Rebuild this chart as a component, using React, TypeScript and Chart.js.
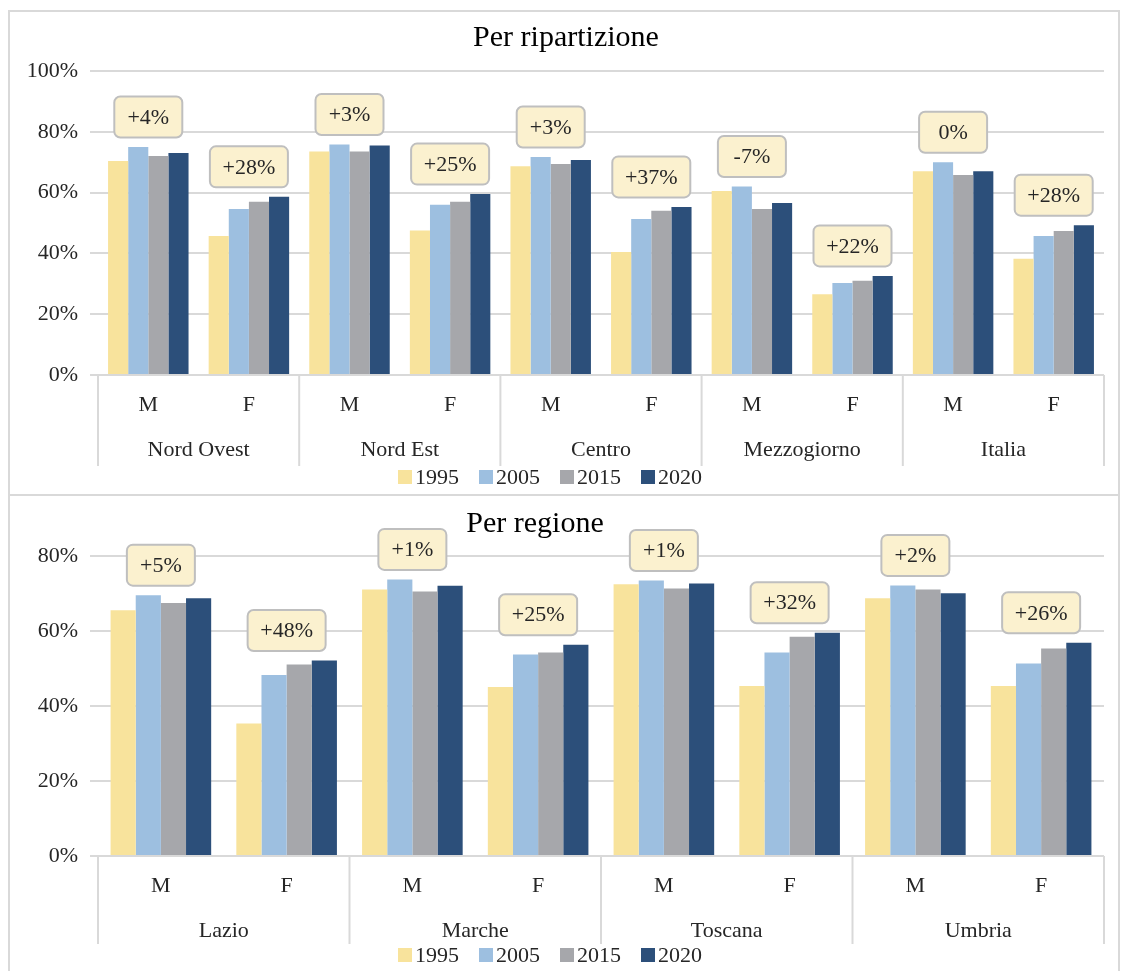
import { useEffect, useRef } from "react"
import { Chart, registerables, type Plugin } from "chart.js"

Chart.register(...registerables)

const YEARS = ["1995", "2005", "2015", "2020"]
const COLORS = ["#F8E39C", "#9DBFE0", "#A6A7AB", "#2C4F7A"]
const SEX = ["M", "F"]

// Per ripartizione
const AREAS = ["Nord Ovest", "Nord Est", "Centro", "Mezzogiorno", "Italia"]
const AREA_1995 = [70.4, 45.7, 73.5, 47.5, 68.7, 40.5, 60.5, 26.6, 67.0, 38.2]
const AREA_2005 = [75.0, 54.6, 75.8, 56.0, 71.7, 51.3, 62.0, 30.3, 70.0, 45.7]
const AREA_2015 = [72.0, 57.0, 73.5, 57.0, 69.4, 54.0, 54.6, 31.0, 65.8, 47.4]
const AREA_2020 = [73.0, 58.6, 75.5, 59.5, 70.7, 55.3, 56.6, 32.6, 67.0, 49.3]
const AREA_DELTA = ["+4%", "+28%", "+3%", "+25%", "+3%", "+37%", "-7%", "+22%", "0%", "+28%"]

// Per regione
const REGIONS = ["Lazio", "Marche", "Toscana", "Umbria"]
const REG_1995 = [65.5, 35.3, 71.0, 45.0, 72.4, 45.3, 68.7, 45.3]
const REG_2005 = [69.5, 48.2, 73.7, 53.7, 73.4, 54.2, 72.1, 51.3]
const REG_2015 = [67.4, 51.0, 70.5, 54.2, 71.3, 58.4, 71.0, 55.3]
const REG_2020 = [68.7, 52.1, 72.0, 56.3, 72.6, 59.5, 70.0, 56.8]
const REG_DELTA = ["+5%", "+48%", "+1%", "+25%", "+1%", "+32%", "+2%", "+26%"]

const FONT = "'Liberation Serif', 'DejaVu Serif', serif"
const INK = "#262626"

interface PanelProps {
  title: string
  titleX: number
  groups: string[]
  series: number[][]
  deltas: string[]
  max: number
  width: number
  height: number
  sepBottom: number
}

function Panel({ title, titleX, groups, series, deltas, max, width, height, sepBottom }: PanelProps) {
  const canvasRef = useRef<HTMLCanvasElement>(null)

  useEffect(() => {
    if (!canvasRef.current) return
    const labels = groups.flatMap(() => SEX)

    const decor: Plugin<"bar"> = {
      id: "decor",
      afterDraw(chart) {
        const { ctx, chartArea: a, scales } = chart
        const x = scales.x
        const y = scales.y
        ctx.save()
        // title
        ctx.fillStyle = "#000"
        ctx.font = `30px ${FONT}`
        ctx.textAlign = "center"
        ctx.textBaseline = "middle"
        ctx.fillText(title, titleX, title === "Per regione" ? 31 : 26)

        // M/F labels and group labels
        ctx.fillStyle = INK
        ctx.font = `22px ${FONT}`
        labels.forEach((l, i) => ctx.fillText(l, x.getPixelForValue(i), a.bottom + 30))
        const step = (a.right - a.left) / labels.length
        groups.forEach((g, gi) => {
          const cx = (x.getPixelForValue(gi * 2) + x.getPixelForValue(gi * 2 + 1)) / 2
          ctx.fillText(g, cx, a.bottom + 75)
        })
        ctx.strokeStyle = "#D9D9D9"
        ctx.lineWidth = 2
        for (let gi = 0; gi <= groups.length; gi++) {
          const sx = a.left + gi * step * 2
          ctx.beginPath()
          ctx.moveTo(sx, a.bottom)
          ctx.lineTo(sx, sepBottom)
          ctx.stroke()
        }
        ctx.beginPath()
        ctx.moveTo(a.left, a.bottom)
        ctx.lineTo(a.right, a.bottom)
        ctx.stroke()

        // callouts
        ctx.font = `22px ${FONT}`
        deltas.forEach((d, i) => {
          const top = Math.max(...series.map(s => s[i]))
          const cy = y.getPixelForValue(top) - 30
          const cx = x.getPixelForValue(i)
          const w = d.length > 3 ? 78 : 68
          const h = 41
          ctx.beginPath()
          ctx.roundRect(cx - w / 2, cy - h / 2, w, h, 6)
          ctx.fillStyle = "#FBF1CF"
          ctx.fill()
          ctx.strokeStyle = "#BFBFBF"
          ctx.lineWidth = 2
          ctx.stroke()
          ctx.fillStyle = INK
          ctx.fillText(d, cx, cy + 1)
        })

        // legend
        ctx.font = `22px ${FONT}`
        ctx.textAlign = "left"
        let lx = 388
        const ly = height - 16
        YEARS.forEach((yr, i) => {
          ctx.fillStyle = COLORS[i]
          ctx.fillRect(lx, ly - 7, 14, 14)
          ctx.fillStyle = INK
          ctx.fillText(yr, lx + 17, ly + 1)
          lx += 17 + ctx.measureText(yr).width + 20
        })
        ctx.restore()
      },
    }

    const chart = new Chart(canvasRef.current, {
      type: "bar",
      data: {
        labels,
        datasets: series.map((s, i) => ({
          label: YEARS[i],
          data: s,
          backgroundColor: COLORS[i],
          categoryPercentage: 0.8,
          barPercentage: 1,
        })),
      },
      options: {
        responsive: false,
        animation: false,
        layout: { padding: { top: max === 100 ? 59 : 21, right: 12, bottom: height - 363, left: 0 } },
        plugins: { legend: { display: false }, tooltip: { enabled: false } },
        scales: {
          x: { display: false, grid: { display: false } },
          y: {
            min: 0,
            max,
            border: { display: false },
            grid: { color: "#D9D9D9", lineWidth: 2 },
            ticks: {
              stepSize: 10,
              padding: 12,
              color: INK,
              font: { size: 22, family: FONT },
              callback: v => (Number(v) % 20 === 0 ? `${v}%` : null),
            },
            afterFit: s => { s.width = 88 },
          },
        },
      },
      plugins: [decor],
    })
    return () => chart.destroy()
  }, [])

  return <canvas ref={canvasRef} width={width} height={height} style={{ display: "block" }} />
}

export default function App() {
  return (
    <div style={{ position: "absolute", left: 0, top: 0, width: 1125, height: 971, background: "#fff", overflow: "hidden" }}>
      <div style={{ position: "absolute", left: 8, top: 10, width: 1108, height: 482, borderLeft: "2px solid #D9D9D9", borderRight: "2px solid #D9D9D9", borderTop: "2px solid #D9D9D9", borderBottom: "2px solid #D9D9D9" }}>
        <Panel title="Per ripartizione" titleX={556} groups={AREAS} series={[AREA_1995, AREA_2005, AREA_2015, AREA_2020]}
          deltas={AREA_DELTA} max={100} width={1106} height={481} sepBottom={454} />
      </div>
      <div style={{ position: "absolute", left: 8, top: 493, width: 1108, height: 480, borderLeft: "2px solid #D9D9D9", borderRight: "2px solid #D9D9D9" }}>
        <Panel title="Per regione" titleX={525} groups={REGIONS} series={[REG_1995, REG_2005, REG_2015, REG_2020]}
          deltas={REG_DELTA} max={90} width={1106} height={478} sepBottom={451} />
      </div>
    </div>
  )
}
